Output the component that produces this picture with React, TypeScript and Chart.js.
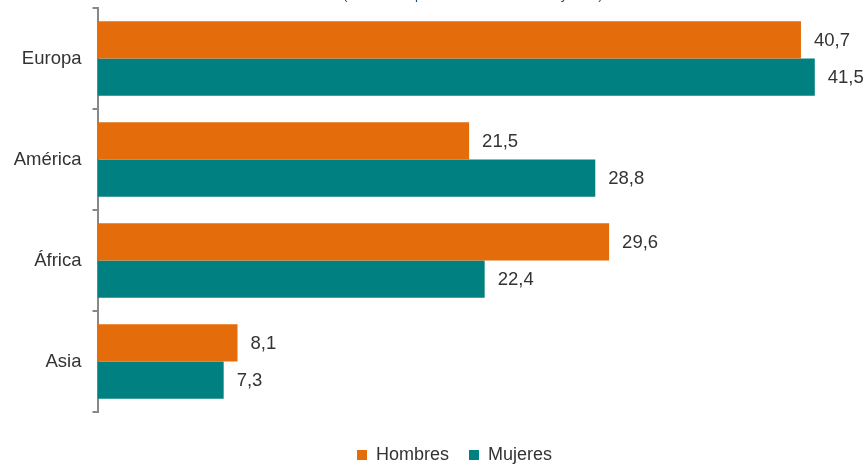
import React, { useEffect, useRef } from "react";
import { Chart, registerables } from "chart.js";

Chart.register(...registerables);

const categories = ["Europa", "América", "África", "Asia"];
const hombres = [40.7, 21.5, 29.6, 8.1];
const mujeres = [41.5, 28.8, 22.4, 7.3];
const seriesNames = ["Hombres", "Mujeres"];
const titleText = "(% sobre la población de cada sexo y área)";

const ORANGE = "#E46C0A";
const TEAL = "#008080";
const FONT = "'Liberation Sans', Arial, sans-serif";

const valueLabels = {
  id: "valueLabels",
  afterDatasetsDraw(chart: any) {
    const ctx = chart.ctx;
    ctx.save();
    ctx.font = `18.5px ${FONT}`;
    ctx.fillStyle = "#333333";
    ctx.textAlign = "left";
    ctx.textBaseline = "middle";
    chart.data.datasets.forEach((ds: any, di: number) => {
      const meta = chart.getDatasetMeta(di);
      meta.data.forEach((bar: any, i: number) => {
        const v = ds.data[i] as number;
        ctx.fillText(v.toFixed(1).replace(".", ","), bar.x + 13, bar.y + 1);
      });
    });
    ctx.restore();
  },
};

const topTitle = {
  id: "topTitle",
  afterDraw(chart: any) {
    const ctx = chart.ctx;
    ctx.save();
    ctx.font = `13.5px ${FONT}`;
    ctx.fillStyle = "#1F4E79";
    ctx.textAlign = "left";
    ctx.textBaseline = "alphabetic";
    ctx.fillText(titleText, 343, 18.5);
    ctx.restore();
  },
};

const legendShift = {
  id: "legendShift",
  afterLayout(chart: any) {
    if (chart.legend) {
      chart.legend.left += 51;
    }
  },
};

export default function App() {
  const ref = useRef<HTMLCanvasElement | null>(null);
  useEffect(() => {
    if (!ref.current) return;
    const chart = new Chart(ref.current, {
      type: "bar",
      data: {
        labels: categories,
        datasets: [
          { label: seriesNames[0], data: hombres, backgroundColor: ORANGE, barPercentage: 1, categoryPercentage: 0.74 },
          { label: seriesNames[1], data: mujeres, backgroundColor: TEAL, barPercentage: 1, categoryPercentage: 0.74 },
        ],
      },
      options: {
        indexAxis: "y",
        responsive: false,
        animation: false,
        layout: { padding: { top: 28, left: 0, right: 7, bottom: 0 } },
        scales: {
          x: {
            type: "linear",
            min: 0,
            max: 44,
            display: true,
            ticks: { display: false },
            grid: { display: false },
            border: { display: false },
            afterFit: (s: any) => { s.height = 14; },
          },
          y: {
            type: "category",
            grid: {
              display: true,
              drawOnChartArea: false,
              drawTicks: true,
              tickLength: 5,
              offset: true,
              color: "#888888",
              lineWidth: 2,
            },
            border: { display: true, color: "#888888", width: 2 },
            ticks: {
              padding: 11,
              color: "#333333",
              font: { family: FONT, size: 18.5 },
            },
            afterFit: (s: any) => { s.width = 97.5; },
          },
        },
        plugins: {
          legend: {
            position: "bottom",
            labels: {
              boxWidth: 10,
              boxHeight: 10,
              padding: 20,
              color: "#333333",
              font: { family: FONT, size: 18 },
            },
          },
          tooltip: { enabled: false },
        },
      },
      plugins: [valueLabels, topTitle, legendShift],
    });
    return () => chart.destroy();
  }, []);
  return (
    <div style={{ position: "absolute", left: 0, top: -20, width: 865, height: 494 }}>
      <canvas ref={ref} width={865} height={494} style={{ width: 865, height: 494, display: "block" }} />
    </div>
  );
}
